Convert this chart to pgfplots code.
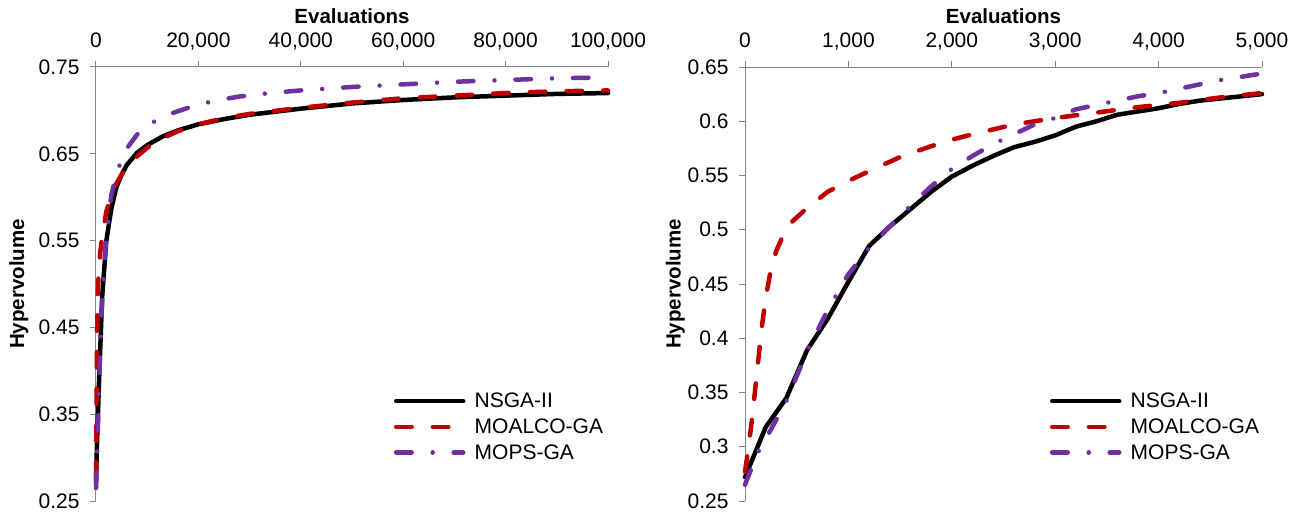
\documentclass[border=0pt]{standalone}
\usepackage{fontspec}
\setmainfont{Liberation Sans}
\usepackage{pgfplots}
\pgfplotsset{compat=1.18}
\definecolor{axgray}{RGB}{134,134,134}
\definecolor{moalcoRed}{RGB}{192,0,0}
\definecolor{mopsPurple}{RGB}{112,48,160}
\pgfplotsset{
  hvstyle/.style={
    scale only axis,
    axis x line=top, axis y line=left,
    axis line style={-, draw=axgray, line width=1pt},
    tick align=outside,
    major tick length=6pt,
    major tick style={draw=axgray, line width=1pt},
    scaled x ticks=false, scaled y ticks=false,
    tick label style={font=\fontsize{21}{25}\selectfont, text=black},
    label style={font=\bfseries\fontsize{20.5}{24}\selectfont},
    yticklabel style={anchor=east, xshift=-7pt},
    xticklabel style={anchor=base, yshift=13pt},
    clip=false,
    legend cell align=left,
    legend style={draw=none, fill=none, inner sep=0pt, anchor=north west,
      font=\fontsize{21}{25}\selectfont, row sep=7pt,
      nodes={inner sep=1.25pt},
      /tikz/every odd column/.append style={column sep=8pt}},
    legend image code/.code={\draw[##1] (0pt,0pt) -- (67pt,0pt);},
  },
  lnsga/.style={black, line width=4.5pt, solid, line cap=round, line join=round},
  lmoalco/.style={moalcoRed, line width=4.5pt, line cap=round, line join=round, dash pattern=on 15.5pt off 21.2pt},
  lmops/.style={mopsPurple, line width=4.5pt, line cap=round, line join=round, dash pattern=on 15.5pt off 21pt on 0.01pt off 21pt},
}
\begin{document}
\begin{tikzpicture}
\begin{axis}[hvstyle,
  width=512pt, height=434pt,
  xmin=0, xmax=100000, ymin=0.25, ymax=0.75,
  xtick={0,20000,40000,60000,80000,100000},
  xticklabels={{0},{20,000},{40,000},{60,000},{80,000},{100,000}},
  ytick={0.25,0.35,0.45,0.55,0.65,0.75},
  yticklabels={{0.25},{0.35},{0.45},{0.55},{0.65},{0.75}},
  xlabel={Evaluations}, ylabel={Hypervolume},
  xlabel style={at={(axis description cs:0.5,1.1175)}, anchor=center},
  ylabel style={at={(axis description cs:-0.1506,0.5)}, anchor=center},
  legend style={at={(axis description cs:0.5815,0.252)}},
]
\addplot[lnsga] coordinates {(0,0.272)(200,0.318)(600,0.389)(1200,0.485)(2000,0.549)(3000,0.587)(4000,0.612)(5000,0.626)(6000,0.637)(8000,0.651)(10000,0.660)(13000,0.670)(16000,0.677)(20000,0.684)(25000,0.690)(30000,0.695)(40000,0.702)(50000,0.708)(60000,0.712)(70000,0.715)(80000,0.717)(90000,0.719)(100000,0.720)};
\addlegendentry{NSGA-II}
\addplot[lmoalco] coordinates {(0,0.277)(100,0.345)(200,0.437)(400,0.499)(800,0.535)(1200,0.554)(2000,0.583)(3000,0.603)(4000,0.616)(5000,0.626)(6000,0.634)(8000,0.647)(10000,0.657)(13000,0.668)(16000,0.676)(20000,0.684)(25000,0.691)(30000,0.696)(40000,0.703)(50000,0.709)(60000,0.714)(70000,0.717)(80000,0.720)(90000,0.722)(100000,0.723)};
\addlegendentry{MOALCO-GA}
\addplot[lmops] coordinates {(0,0.265)(400,0.342)(1000,0.459)(2000,0.556)(3000,0.603)(4000,0.626)(5000,0.644)(6000,0.656)(8000,0.672)(10000,0.683)(14000,0.695)(18000,0.703)(23000,0.711)(28000,0.716)(34000,0.720)(40000,0.723)(50000,0.727)(60000,0.730)(70000,0.733)(80000,0.735)(90000,0.737)(100000,0.738)};
\addlegendentry{MOPS-GA}
\end{axis}
\begin{axis}[hvstyle, at={(649pt,0pt)}, anchor=south west,
  width=517pt, height=434pt,
  xmin=0, xmax=5000, ymin=0.25, ymax=0.65,
  xtick={0,1000,2000,3000,4000,5000},
  xticklabels={{0},{1,000},{2,000},{3,000},{4,000},{5,000}},
  ytick={0.25,0.3,0.35,0.4,0.45,0.5,0.55,0.6,0.65},
  yticklabels={{0.25},{0.3},{0.35},{0.4},{0.45},{0.5},{0.55},{0.6},{0.65}},
  xlabel={Evaluations}, ylabel={Hypervolume},
  xlabel style={at={(axis description cs:0.5,1.1175)}, anchor=center},
  ylabel style={at={(axis description cs:-0.135,0.5)}, anchor=center},
  legend style={at={(axis description cs:0.5895,0.252)}},
]
\addplot[lnsga] coordinates {(0,0.272)(200,0.318)(400,0.345)(600,0.389)(800,0.418)(1000,0.452)(1200,0.485)(1400,0.503)(1600,0.519)(1800,0.535)(2000,0.549)(2200,0.559)(2400,0.568)(2600,0.576)(2800,0.581)(3000,0.587)(3200,0.595)(3400,0.600)(3600,0.606)(3800,0.609)(4000,0.612)(4200,0.616)(4400,0.619)(4600,0.621)(4800,0.623)(5000,0.625)};
\addlegendentry{NSGA-II}
\addplot[lmoalco] coordinates {(0,0.277)(20,0.290)(65,0.323)(113,0.366)(161,0.409)(200,0.437)(242,0.459)(300,0.480)(371,0.495)(450,0.507)(600,0.520)(800,0.535)(1000,0.545)(1200,0.554)(1500,0.567)(1800,0.577)(2000,0.583)(2200,0.588)(2600,0.597)(3000,0.603)(3400,0.608)(3800,0.613)(4200,0.617)(4600,0.622)(5000,0.626)};
\addlegendentry{MOALCO-GA}
\addplot[lmops] coordinates {(0,0.265)(120,0.294)(240,0.314)(400,0.342)(600,0.388)(800,0.426)(1000,0.459)(1200,0.483)(1400,0.503)(1600,0.522)(1800,0.540)(2000,0.556)(2200,0.568)(2400,0.579)(2600,0.588)(2800,0.597)(3000,0.603)(3200,0.611)(3400,0.615)(3600,0.619)(3800,0.623)(4000,0.626)(4200,0.630)(4400,0.634)(4600,0.638)(4800,0.641)(5000,0.644)};
\addlegendentry{MOPS-GA}
\end{axis}
\pgfresetboundingbox
\path[use as bounding box] (-96pt,-11pt) rectangle (1201pt,501pt);
\end{tikzpicture}
\end{document}
